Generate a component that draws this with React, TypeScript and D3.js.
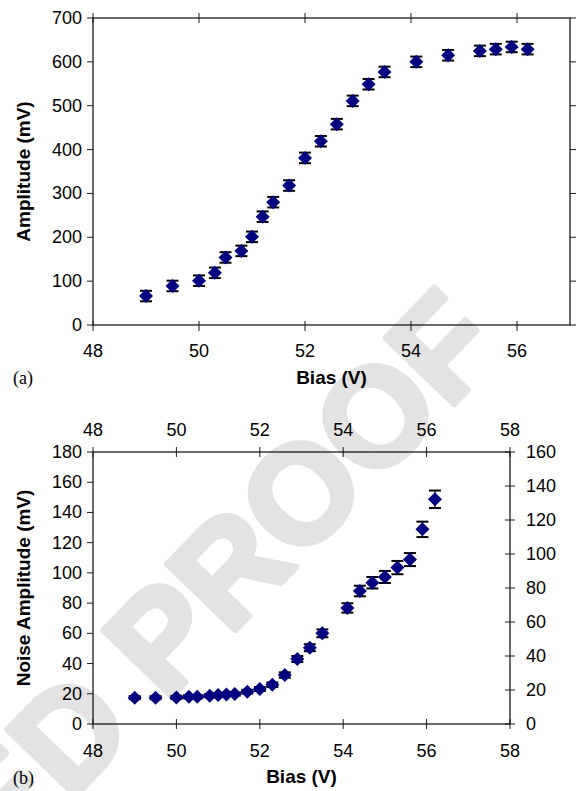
import React from "react";
import * as d3 from "d3";

// ---- Data: panel (a) ----
const topBias = [49.0, 49.5, 50.0, 50.3, 50.5, 50.8, 51.0, 51.2, 51.4, 51.7, 52.0, 52.3, 52.6, 52.9, 53.2, 53.5, 54.1, 54.7, 55.3, 55.6, 55.9, 56.2];
const topAmp = [66, 89, 101, 119, 154, 169, 201, 247, 280, 318, 381, 419, 458, 511, 549, 577, 600, 615, 625, 629, 634, 629];
const topErr = [12, 12, 12, 12, 12, 12, 12, 12, 12, 12, 12, 12, 12, 12, 12, 12, 12, 12, 12, 12, 12, 12];
const topXTicks = [48, 50, 52, 54, 56];
const topYTicks = [0, 100, 200, 300, 400, 500, 600, 700];

// ---- Data: panel (b) ----
const botBias = [49.0, 49.5, 50.0, 50.3, 50.5, 50.8, 51.0, 51.2, 51.4, 51.7, 52.0, 52.3, 52.6, 52.9, 53.2, 53.5, 54.1, 54.4, 54.7, 55.0, 55.3, 55.6, 55.9, 56.2];
const botNoise = [17.4, 17.4, 17.6, 18.0, 18.0, 18.7, 19.2, 19.6, 19.8, 21.4, 23.2, 26.0, 32.4, 43.0, 50.5, 60.0, 76.8, 88.0, 93.5, 97.3, 103.5, 108.8, 128.8, 148.7];
const botErr = [1.0, 1.0, 1.0, 1.0, 1.0, 1.0, 1.0, 1.0, 1.0, 1.2, 1.3, 1.5, 1.8, 2.0, 2.3, 2.6, 3.1, 3.5, 3.8, 4.0, 4.4, 4.3, 5.1, 5.8];
const botXTicks = [48, 50, 52, 54, 56, 58];
const botYLeftTicks = [0, 20, 40, 60, 80, 100, 120, 140, 160, 180];
const botYRightTicks = [0, 20, 40, 60, 80, 100, 120, 140, 160];

const SANS = "'Liberation Sans', Arial, Helvetica, sans-serif";
const SERIF = "'Liberation Serif', 'Times New Roman', serif";
const MARK = "#000080";
const AX = "#1a1a1a";

const diamond = d3.symbol().type(d3.symbolSquare).size(98)() as string;

function ErrPoints({ xs, ys, es, x, y }: any) {
  return (
    <g>
      {xs.map((b: number, i: number) => {
        const cx = x(b);
        const y1 = y(ys[i] - es[i]);
        const y2 = y(ys[i] + es[i]);
        return (
          <g key={"e" + i} stroke="#000" fill="none">
            <line x1={cx} x2={cx} y1={y1} y2={y2} strokeWidth={1.2} />
            <line x1={cx - 6} x2={cx + 6} y1={y1} y2={y1} strokeWidth={2} />
            <line x1={cx - 6} x2={cx + 6} y1={y2} y2={y2} strokeWidth={2} />
          </g>
        );
      })}
      {xs.map((b: number, i: number) => (
        <path key={"m" + i} d={diamond} fill={MARK} transform={`translate(${x(b)},${y(ys[i])}) rotate(45)`} />
      ))}
    </g>
  );
}

export default function App() {
  // panel (a)
  const ax = d3.scaleLinear().domain([48, 57]).range([93, 570]);
  const ay = d3.scaleLinear().domain([0, 700]).range([325, 18]);
  // panel (b)
  const bx = d3.scaleLinear().domain([48, 58]).range([93, 510]);
  const byL = d3.scaleLinear().domain([0, 180]).range([724, 452]);
  const byR = d3.scaleLinear().domain([0, 160]).range([724, 452]);

  const tickFont = 18;
  const titleFont = 19;

  return (
    <svg width={584} height={791} style={{ position: "absolute", left: 0, top: 0, background: "#fff" }} fontFamily={SANS}>
      <rect x={0} y={0} width={584} height={791} fill="#fff" />
      {/* watermark */}
      <text
        transform="translate(506,350) rotate(-46)"
        textAnchor="end"
        fontFamily={SANS}
        fontWeight="bold"
        fontSize={138}
        fill="#e3e3e3"
        stroke="#e3e3e3"
        strokeWidth={6}
        strokeLinejoin="round"
      >
        UNCORRECTED PROOF
      </text>

      {/* ===== Panel (a) ===== */}
      <g>
        <rect x={ax.range()[0]} y={ay.range()[1]} width={ax.range()[1] - ax.range()[0]} height={ay.range()[0] - ay.range()[1]} fill="none" stroke={AX} strokeWidth={1.3} />
        {topXTicks.map((t) => (
          <g key={"atx" + t} stroke={AX} strokeWidth={1}>
            <line x1={ax(t)} x2={ax(t)} y1={ay(0) - 4} y2={ay(0) + 6} />
            <line x1={ax(t)} x2={ax(t)} y1={ay(700) - 5} y2={ay(700) + 5} />
          </g>
        ))}
        {topXTicks.map((t) => (
          <text key={"atl" + t} x={ax(t)} y={357} textAnchor="middle" fontSize={tickFont} fill="#000">
            {t}
          </text>
        ))}
        {topYTicks.map((t) => (
          <g key={"aty" + t} stroke={AX} strokeWidth={1}>
            <line x1={ax(48) - 6} x2={ax(48)} y1={ay(t)} y2={ay(t)} />
            <line x1={ax(57)} x2={ax(57) + 6} y1={ay(t)} y2={ay(t)} />
          </g>
        ))}
        {topYTicks.map((t) => (
          <text key={"atyl" + t} x={82} y={ay(t) + 6} textAnchor="end" fontSize={tickFont} fill="#000">
            {t}
          </text>
        ))}
        <ErrPoints xs={topBias} ys={topAmp} es={topErr} x={ax} y={ay} />
        <text x={(ax(48) + ax(57)) / 2} y={384} textAnchor="middle" fontSize={titleFont} fontWeight="bold">
          Bias (V)
        </text>
        <text transform={`translate(30,${(ay(0) + ay(700)) / 2}) rotate(-90)`} textAnchor="middle" fontSize={titleFont} fontWeight="bold">
          Amplitude (mV)
        </text>
        <text x={13} y={384} fontFamily={SERIF} fontSize={18}>
          (a)
        </text>
      </g>

      {/* ===== Panel (b) ===== */}
      <g>
        <rect x={bx.range()[0]} y={byL.range()[1]} width={bx.range()[1] - bx.range()[0]} height={byL.range()[0] - byL.range()[1]} fill="none" stroke={AX} strokeWidth={1.3} />
        {botXTicks.map((t) => (
          <g key={"btx" + t} stroke={AX} strokeWidth={1}>
            <line x1={bx(t)} x2={bx(t)} y1={byL(0) - 5} y2={byL(0) + 5} />
            <line x1={bx(t)} x2={bx(t)} y1={byL(180) - 5} y2={byL(180) + 5} />
          </g>
        ))}
        {botXTicks.map((t) => (
          <g key={"btl" + t}>
            <text x={bx(t)} y={757} textAnchor="middle" fontSize={tickFont}>
              {t}
            </text>
            <text x={bx(t)} y={436} textAnchor="middle" fontSize={tickFont}>
              {t}
            </text>
          </g>
        ))}
        {botYLeftTicks.map((t) => (
          <g key={"byl" + t}>
            <line x1={bx(48) - 6} x2={bx(48)} y1={byL(t)} y2={byL(t)} stroke={AX} strokeWidth={1} />
            <text x={82} y={byL(t) + 6} textAnchor="end" fontSize={tickFont}>
              {t}
            </text>
          </g>
        ))}
        {botYRightTicks.map((t) => (
          <g key={"byr" + t}>
            <line x1={bx(58) - 5} x2={bx(58) + 5} y1={byR(t)} y2={byR(t)} stroke={AX} strokeWidth={1} />
            <text x={526} y={byR(t) + 6} textAnchor="start" fontSize={tickFont}>
              {t}
            </text>
          </g>
        ))}
        <ErrPoints xs={botBias} ys={botNoise} es={botErr} x={bx} y={byL} />
        <text x={(bx(48) + bx(58)) / 2} y={783} textAnchor="middle" fontSize={titleFont} fontWeight="bold">
          Bias (V)
        </text>
        <text transform={`translate(30,${(byL(0) + byL(180)) / 2}) rotate(-90)`} textAnchor="middle" fontSize={titleFont} fontWeight="bold">
          Noise Amplitude (mV)
        </text>
        <text x={13} y={784} fontFamily={SERIF} fontSize={18}>
          (b)
        </text>
      </g>
    </svg>
  );
}
